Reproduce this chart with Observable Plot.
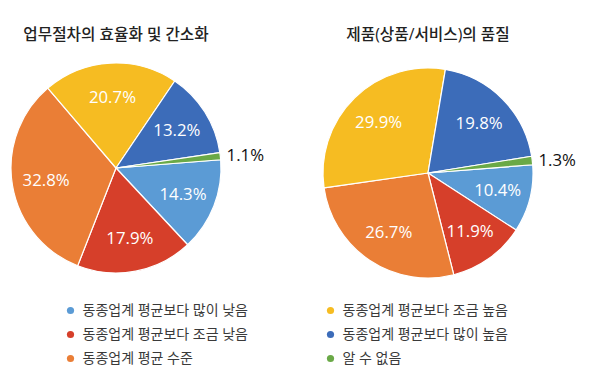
<!DOCTYPE html>
<html>
<head>
<meta charset="utf-8">
<script src="https://cdn.jsdelivr.net/npm/d3@7"></script>
<script src="https://cdn.jsdelivr.net/npm/@observablehq/plot@0.6"></script>
<style>
  html, body { margin: 0; padding: 0; background: #fff; }
  #root { position: relative; width: 600px; height: 389px; overflow: hidden; font-family: "Open Sans", "Noto Sans CJK KR", sans-serif; }
  .title { position: absolute; top: 23px; width: 300px; text-align: center; font-family: "Open Sans", "Noto Sans CJK KR", sans-serif; font-size: 15.7px; font-weight: 500; color: #222; white-space: nowrap; line-height: 22px; }
  .panel { position: absolute; }
</style>
</head>
<body>
<div id="root"></div>
<script>
// ---- data ----
const categories = [
  "동종업계 평균보다 많이 낮음",
  "동종업계 평균보다 조금 낮음",
  "동종업계 평균 수준",
  "동종업계 평균보다 조금 높음",
  "동종업계 평균보다 많이 높음",
  "알 수 없음"
];
const colors = ["#5b9bd5", "#d63f2a", "#ea7e36", "#f6bc22", "#3c6cb9", "#6aa947"];
const efficiencyValues = [14.3, 17.9, 32.8, 20.7, 13.2, 1.1];
const qualityValues = [10.4, 11.9, 26.7, 29.9, 19.8, 1.3];
const titles = ["업무절차의 효율화 및 간소화", "제품(상품/서비스)의 품질"];

// ---- layout ----
const root = document.getElementById("root");
const R = 105;               // pie radius in px
const startDeg = 85.5;       // angle of first slice (clockwise from 12 o'clock)
const PW = 300, PH = 240, TOP = 50;

function pieChart(values, title, left, cx, cy) {
  const arcs = d3.pie().sort(null)
    .startAngle(startDeg * Math.PI / 180)
    .endAngle(startDeg * Math.PI / 180 + 2 * Math.PI)
    .value(d => d.value)(values.map((v, i) => ({category: categories[i], value: v})));
  arcs.forEach(a => { a.mid = (a.startAngle + a.endAngle) / 2; });
  const inside = arcs.filter(a => a.value >= 3);
  const outside = arcs.filter(a => a.value < 3);

  const chart = Plot.plot({
    width: PW, height: PH,
    margin: 0,
    x: {domain: [-cx / R, (PW - cx) / R], range: [0, PW], axis: null},
    y: {domain: [-(PH - cy) / R, cy / R], range: [PH, 0], axis: null},
    color: {domain: categories, range: colors},
    style: {background: "transparent", overflow: "visible"},
    marks: [
      Plot.dot(arcs, {
        x: a => Math.sin(a.mid), y: a => Math.cos(a.mid),
        fill: a => a.data.category,
        render(index, scales, values) {
          const g = d3.create("svg:g");
          const x0 = scales.x(0), y0 = scales.y(0), r = scales.x(1) - scales.x(0);
          const arc = d3.arc().innerRadius(0).outerRadius(r);
          g.selectAll("path").data(index).join("path")
            .attr("transform", `translate(${x0},${y0})`)
            .attr("d", i => arc(arcs[i]))
            .attr("fill", i => values.fill[i])
            .attr("stroke", "#fff")
            .attr("stroke-width", 1.2)
            .attr("stroke-linejoin", "round");
          return g.node();
        }
      }),
      Plot.text(inside, {
        x: a => 0.68 * Math.sin(a.mid), y: a => 0.68 * Math.cos(a.mid),
        text: a => a.value.toFixed(1) + "%",
        fill: "#fff", fontSize: 16.8, fontFamily: "Open Sans, sans-serif"
      }),
      Plot.text(outside, {
        x: a => 1.055 * Math.sin(a.mid), y: a => 1.055 * Math.cos(a.mid),
        text: a => a.value.toFixed(1) + "%",
        textAnchor: "start", fill: "#111", fontSize: 16.8, fontFamily: "Open Sans, sans-serif"
      })
    ]
  });
  chart.classList.add("panel");
  chart.style.left = left + "px";
  chart.style.top = TOP + "px";
  root.appendChild(chart);

  const t = document.createElement("div");
  t.className = "title";
  t.textContent = title;
  t.style.left = (left + cx - 150) + "px";
  root.appendChild(t);
}

pieChart(efficiencyValues, titles[0], 0, 116, 168 - TOP);
pieChart(qualityValues, titles[1], 300, 128, 173 - TOP);

// ---- legend ----
const legendItems = categories.map((c, i) => ({category: c, col: Math.floor(i / 3), row: i % 3}));
const legend = Plot.plot({
  width: 600, height: 100, margin: 0,
  x: {domain: [0, 1], range: [70, 330], axis: null},
  y: {domain: [0, 2], range: [25, 73], axis: null},
  color: {domain: categories, range: colors},
  style: {background: "transparent", overflow: "visible"},
  marks: [
    Plot.dot(legendItems, {x: "col", y: "row", fill: "category", r: 3.6}),
    Plot.text(legendItems, {
      x: "col", y: "row", text: "category", dx: 12, textAnchor: "start",
      fill: "#3a3a3a", fontSize: 14, fontFamily: "Open Sans, Noto Sans CJK KR, sans-serif"
    })
  ]
});
legend.classList.add("panel");
legend.style.left = "0px";
legend.style.top = "285px";
root.appendChild(legend);
</script>
</body>
</html>
